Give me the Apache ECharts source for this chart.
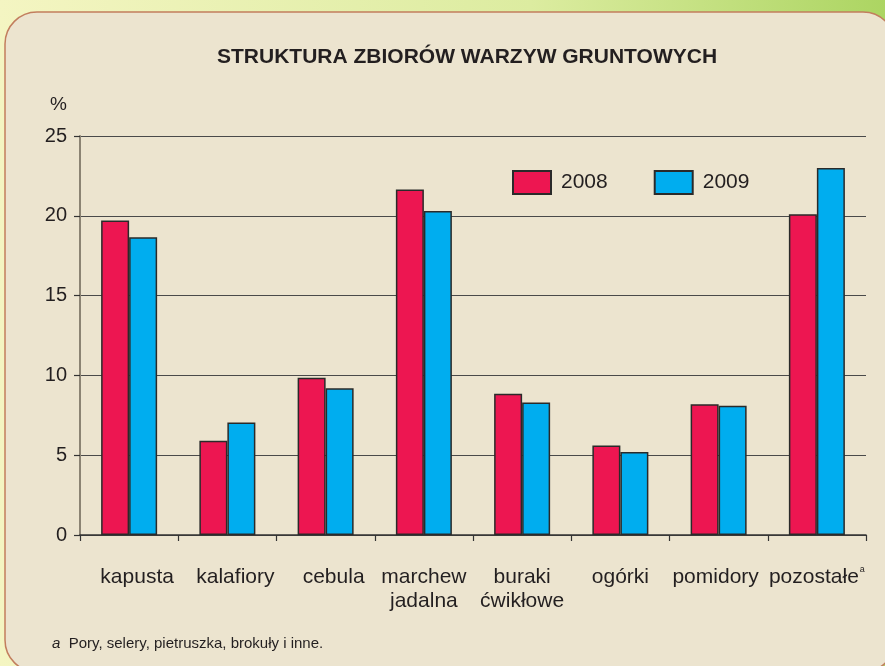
<!DOCTYPE html>
<html>
<head>
<meta charset="utf-8">
<script src="https://cdn.jsdelivr.net/npm/echarts@6/dist/echarts.min.js"></script>
<style>
  html, body { margin: 0; padding: 0; }
  #chart { width: 885px; height: 666px; }
</style>
</head>
<body>
<div id="chart"></div>
<script>
  // categories and values
  var categories = ['kapusta', 'kalafiory', 'cebula', 'marchew\njadalna', 'buraki\nćwikłowe', 'ogórki', 'pomidory', 'pozostałe{sup|a}'];
  var values2008 = [19.7, 5.9, 9.85, 21.65, 8.85, 5.6, 8.2, 20.1];
  var values2009 = [18.65, 7.05, 9.2, 20.3, 8.3, 5.2, 8.1, 23.0];
  var seriesNames = ['2008', '2009'];
  var yTicks = { min: 0, max: 25, interval: 5 };

  var FONT = '"Liberation Sans", Arial, sans-serif';
  var myChart = echarts.init(document.getElementById('chart'));

  // the first three labels sit a little right of their category centre in the original
  var categoryData = categories.map(function (name, i) {
    if (i < 3) return { value: name, textStyle: { padding: [0, 0, 0, 16] } };
    if (i === 6) return { value: name, textStyle: { padding: [0, 6, 0, 0] } };
    return name;
  });

  var option = {
    animation: false,
    textStyle: { fontFamily: FONT },
    graphic: [
      {
        type: 'rect', z: -20, silent: true,
        shape: { x: 0, y: 0, width: 885, height: 666 },
        style: {
          fill: new echarts.graphic.LinearGradient(0, 0, 1, 0, [
            { offset: 0, color: '#f4f5c2' },
            { offset: 0.6, color: '#dcecA0' },
            { offset: 1, color: '#acd562' }
          ])
        }
      },
      {
        type: 'rect', z: -10, silent: true,
        shape: { x: 5, y: 12, width: 890, height: 660, r: 32 },
        style: { fill: '#ece4cf', stroke: '#c27e5e', lineWidth: 1.5 }
      },
      {
        type: 'text', left: 217, top: 47,
        style: { text: 'STRUKTURA ZBIORÓW WARZYW GRUNTOWYCH', fill: '#231f20', font: 'bold 21px ' + FONT }
      },
      {
        type: 'text', left: 50, top: 95,
        style: { text: '%', fill: '#231f20', font: '19px ' + FONT }
      },
      {
        type: 'text', left: 52, top: 636,
        style: {
          text: '{i|a}  Pory, selery, pietruszka, brokuły i inne.',
          fill: '#231f20', font: '15px ' + FONT,
          rich: { i: { fontStyle: 'italic', fontSize: 15, fontFamily: FONT, fill: '#231f20' } }
        }
      }
    ],
    legend: {
      left: 507, top: 165,
      itemWidth: 38, itemHeight: 23,
      itemGap: 46,
      icon: 'rect',
      data: seriesNames,
      textStyle: { fontSize: 21, color: '#231f20', padding: [0, 0, 0, 5] }
    },
    grid: { left: 80, right: 19, top: 136, bottom: 131, containLabel: false },
    xAxis: {
      type: 'category',
      data: categoryData,
      axisLine: { lineStyle: { color: '#333', width: 1.5 } },
      axisTick: { show: true, length: 6, lineStyle: { color: '#333', width: 1.2 } },
      axisLabel: {
        interval: 0, margin: 30, fontSize: 21, color: '#231f20', lineHeight: 24,
        rich: { sup: { fontSize: 9, padding: [0, 0, 14, 1], color: '#231f20' } }
      }
    },
    yAxis: {
      type: 'value',
      min: yTicks.min, max: yTicks.max, interval: yTicks.interval,
      axisLine: { show: true, lineStyle: { color: '#8b8373', width: 2 } },
      axisTick: { show: true, length: 6, lineStyle: { color: '#333', width: 1.2 } },
      axisLabel: { margin: 13, fontSize: 20, color: '#231f20' },
      splitLine: { lineStyle: { color: '#4a4a4a', width: 1.2 } }
    },
    series: [
      {
        name: seriesNames[0], type: 'bar', data: values2008,
        barWidth: 28, barGap: '0%',
        itemStyle: { color: '#ed1651', borderColor: '#2a2a2a', borderWidth: 1.5 }
      },
      {
        name: seriesNames[1], type: 'bar', data: values2009,
        barWidth: 28,
        itemStyle: { color: '#00adef', borderColor: '#2a2a2a', borderWidth: 1.5 }
      }
    ]
  };

  myChart.setOption(option);
</script>
</body>
</html>
